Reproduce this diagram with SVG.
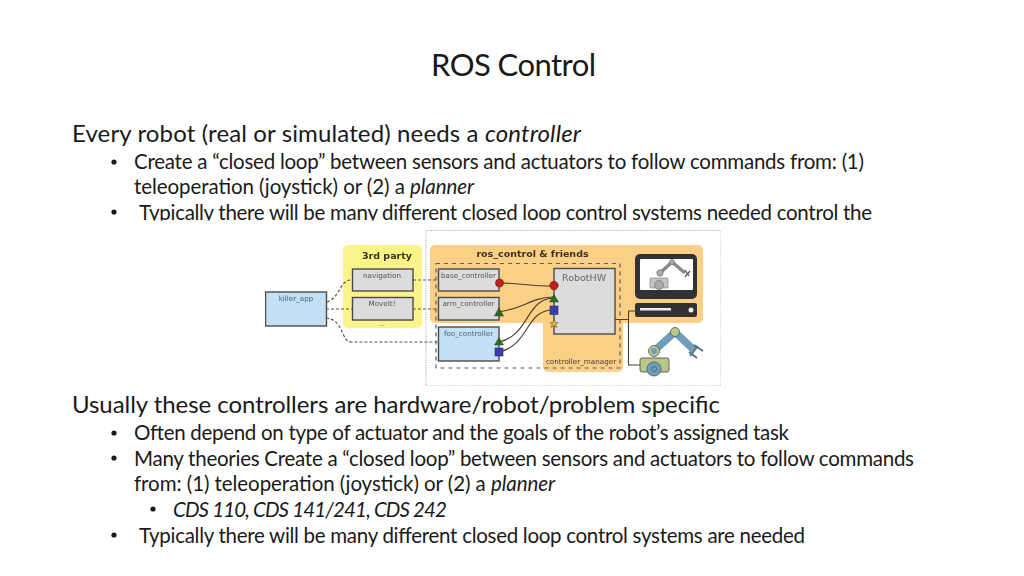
<svg xmlns="http://www.w3.org/2000/svg" width="1024" height="576" viewBox="0 0 1024 576">
<defs>
<style>
.t{font-family:Lato,"Liberation Sans",sans-serif;fill:#1a1a1a}
.h{font-size:24px}
.b{font-size:20.5px}
.i{font-style:italic}
.d{font-family:"DejaVu Sans",sans-serif;fill:#555;font-size:7.2px;text-anchor:middle}
.bl{fill:#44627a}
.rh{font-size:9.5px;fill:#666}
.cm{fill:#4a4030}
.dots{font-size:6px}
.hd{font-family:"DejaVu Sans",sans-serif;font-weight:bold;fill:#3a3320;font-size:9.5px;text-anchor:middle}
.box{stroke:#4a4a4a;stroke-width:1.4}
.gray{fill:#dcdcdc}
.blue{fill:#c3e0f7}
.dash{fill:none;stroke:#555;stroke-width:1.2;stroke-dasharray:3 2}
.wire{fill:none;stroke:#4a3f25;stroke-width:1.1}
.red{fill:#c41a1a;stroke:#5a2a1a;stroke-width:.7}
.grn{fill:#2f6b25;stroke:#24481e;stroke-width:.5}
.blu{fill:#3c3cb0;stroke:#2a2a66;stroke-width:.6}
</style>
<filter id="soft" x="0" y="0" width="1" height="1"><feGaussianBlur stdDeviation="0.3"/></filter>
</defs>
<rect width="1024" height="576" fill="#fff"/>

<text class="t" x="431" y="76" font-size="31" textLength="165">ROS Control</text>
<text class="t h" x="72" y="142" textLength="509">Every robot (real or simulated) needs a <tspan class="i">controller</tspan></text>
<circle cx="114" cy="162" r="2.6" fill="#1a1a1a"/>
<text class="t b" x="134" y="169" textLength="730">Create a “closed loop” between sensors and actuators to follow commands from: (1)</text>
<text class="t b" x="134" y="194" textLength="340">teleoperation (joystick) or (2) a <tspan class="i">planner</tspan></text>
<circle cx="114" cy="212" r="2.6" fill="#1a1a1a"/>
<text class="t b" x="139" y="220" textLength="733">Typically there will be many different closed loop control systems needed control the</text>
<rect x="125" y="220.500" width="760" height="12" fill="#fff"/>

<text class="t h" x="72" y="413" textLength="648">Usually these controllers are hardware/robot/problem specific</text>
<circle cx="114" cy="433" r="2.6" fill="#1a1a1a"/>
<text class="t b" x="134" y="440" textLength="655">Often depend on type of actuator and the goals of the robot’s assigned task</text>
<circle cx="114" cy="458" r="2.6" fill="#1a1a1a"/>
<text class="t b" x="134" y="466" textLength="780">Many theories Create a “closed loop” between sensors and actuators to follow commands</text>
<text class="t b" x="134" y="491" textLength="421">from: (1) teleoperation (joystick) or (2) a <tspan class="i">planner</tspan></text>
<circle cx="153" cy="509" r="2.6" fill="#1a1a1a"/>
<text class="t b i" x="173" y="517" textLength="274">CDS 110, CDS 141/241, CDS 242</text>
<circle cx="114" cy="535" r="2.6" fill="#1a1a1a"/>
<text class="t b" x="139" y="543" textLength="666">Typically there will be many different closed loop control systems are needed</text>

<g id="diagram" filter="url(#soft)">
<g id="frame"><rect x="426" y="230.500" width="295" height="155.500" fill="#fff" stroke="#999" stroke-width=".8" stroke-dasharray="1.200 1.200"/></g>
<g id="third_party">
<rect x="343" y="245" width="79" height="83" rx="5" fill="#fbf589"/>
<text class="hd" x="387" y="259">3rd party</text>
<text class="d dots" x="382" y="326">...</text>
</g>
<g id="ros_control">
<path d="M435 245H698a5 5 0 0 1 5 5V318a5 5 0 0 1-5 5H623V367a5 5 0 0 1-5 5H548a5 5 0 0 1-5-5V323H435a5 5 0 0 1-5-5V250a5 5 0 0 1 5-5Z" fill="#fbcf85"/>
<text class="hd" x="532.500" y="257">ros_control &amp; friends</text>
<text class="d cm" x="581" y="364">controller_manager</text>
</g>
<g id="connectors">
<path class="dash" d="M327 302C340 298 340 279 352 280"/>
<path class="dash" d="M326 309H352"/>
<path class="dash" d="M326 318C345 320 340 342 352 342H438"/>
<path class="dash" d="M413 280H438"/>
<path class="dash" d="M413 309H438"/>
<path class="wire" d="M499 283C520 283 530 286 553 286"/>
<path class="wire" d="M499 312C525 308 530 298 553 297"/>
<path class="wire" d="M499 342C530 335 525 300 553 298"/>
<path class="wire" d="M499 352C530 345 525 310 553 310"/>
<path class="wire" d="M615 319.500H628.500V311H635M628.500 319.500V365H641"/>
</g>
<g id="controller_manager"><path d="M436 263.500H620V368H436Z" fill="none" stroke="#5f5f5f" stroke-width="1.200" stroke-dasharray="4 4"/></g>
<g id="killer_app"><rect class="box blue" x="265.500" y="292" width="61" height="34"/><text class="d bl" x="296" y="301">killer_app</text></g>
<g id="navigation"><rect class="box gray" x="352.500" y="269" width="60.500" height="22"/><text class="d" x="382" y="278">navigation</text></g>
<g id="moveit"><rect class="box gray" x="352.500" y="297.500" width="60.500" height="22.500"/><text class="d" x="382" y="306">MoveIt!</text></g>
<g id="base_controller"><rect class="box gray" x="438.500" y="269" width="60.500" height="22"/><text class="d" x="468.500" y="278">base_controller</text></g>
<g id="arm_controller"><rect class="box gray" x="438.500" y="297.500" width="60.500" height="22.500"/><text class="d" x="468.500" y="306">arm_controller</text></g>
<g id="foo_controller"><rect class="box blue" x="438.500" y="327" width="60.500" height="34"/><text class="d bl" x="468.500" y="336">foo_controller</text></g>
<g id="ports">
<circle class="red" cx="499.500" cy="283" r="4"/>
<path class="grn" d="M499 307.500L503.500 316H494.500Z"/>
<path class="grn" d="M499 337.500L503.500 345H494.500Z"/>
<rect class="blu" x="495" y="348" width="8" height="8"/>
</g>
<g id="robothw">
<rect class="box gray" x="554" y="268.500" width="61" height="65.500"/>
<text class="d rh" x="584" y="281">RobotHW</text>
<circle class="red" cx="554" cy="285.500" r="4.200"/>
<path class="grn" d="M554 294.500L558.500 302H549.500Z"/>
<rect class="blu" x="550" y="306" width="8" height="8.500"/>
<path d="M554 319.500L555.300 322.500H558L556 324.500L556.800 327.500L554 325.800L551.200 327.500L552 324.500L550 322.500H552.700Z" fill="#d8b93c" stroke="#5a4a1a" stroke-width=".5"/>
</g>
<g id="monitor">
<rect x="635" y="254" width="62" height="45" rx="5" fill="#333"/>
<rect x="640" y="259" width="53" height="31" rx="1" fill="#fff"/>
<path d="M660 273L672 262L685 273" fill="none" stroke="#8a8a8a" stroke-width="3.500"/>
<rect x="650" y="278" width="18" height="10" rx="1" fill="#c4c4c4" stroke="#777" stroke-width=".6"/>
<circle cx="660" cy="273" r="3.200" fill="#aaa" stroke="#666" stroke-width=".6"/>
<circle cx="672" cy="262" r="2.500" fill="#aaa" stroke="#666" stroke-width=".6"/>
<circle cx="659" cy="285" r="4.500" fill="#aaa" stroke="#666" stroke-width=".6"/>
<path d="M685 270L689 276M690 271L685 277" stroke="#555" stroke-width="1.300"/>
<rect x="635" y="303" width="62" height="14" rx="2" fill="#333"/>
<rect x="640" y="308" width="31" height="2.500" fill="#eee"/>
<circle cx="691" cy="310" r="2.500" fill="#eee"/>
</g>
<g id="robot">
<path d="M654 351L675 332L694 350" fill="none" stroke="#6f9dbb" stroke-width="7.500"/>
<circle cx="654" cy="351" r="5.500" fill="#b8c88a" stroke="#555" stroke-width=".8"/>
<circle cx="654" cy="351" r="3" fill="#6f9dbb"/>
<circle cx="675" cy="332" r="4.500" fill="#b8c88a" stroke="#555" stroke-width=".8"/>
<path d="M690 356L698 346M694 345L703 351M689 352L697 358" fill="none" stroke="#4f6f80" stroke-width="1.800"/>
<rect x="640" y="358" width="29" height="14" rx="2" fill="#b8c88a" stroke="#555" stroke-width=".9"/>
<circle cx="654" cy="369" r="7" fill="#6f9dbb" stroke="#555" stroke-width=".8"/>
<circle cx="654" cy="369" r="2.500" fill="none" stroke="#3f5f70" stroke-width=".8"/>
</g>
</g>
</svg>
